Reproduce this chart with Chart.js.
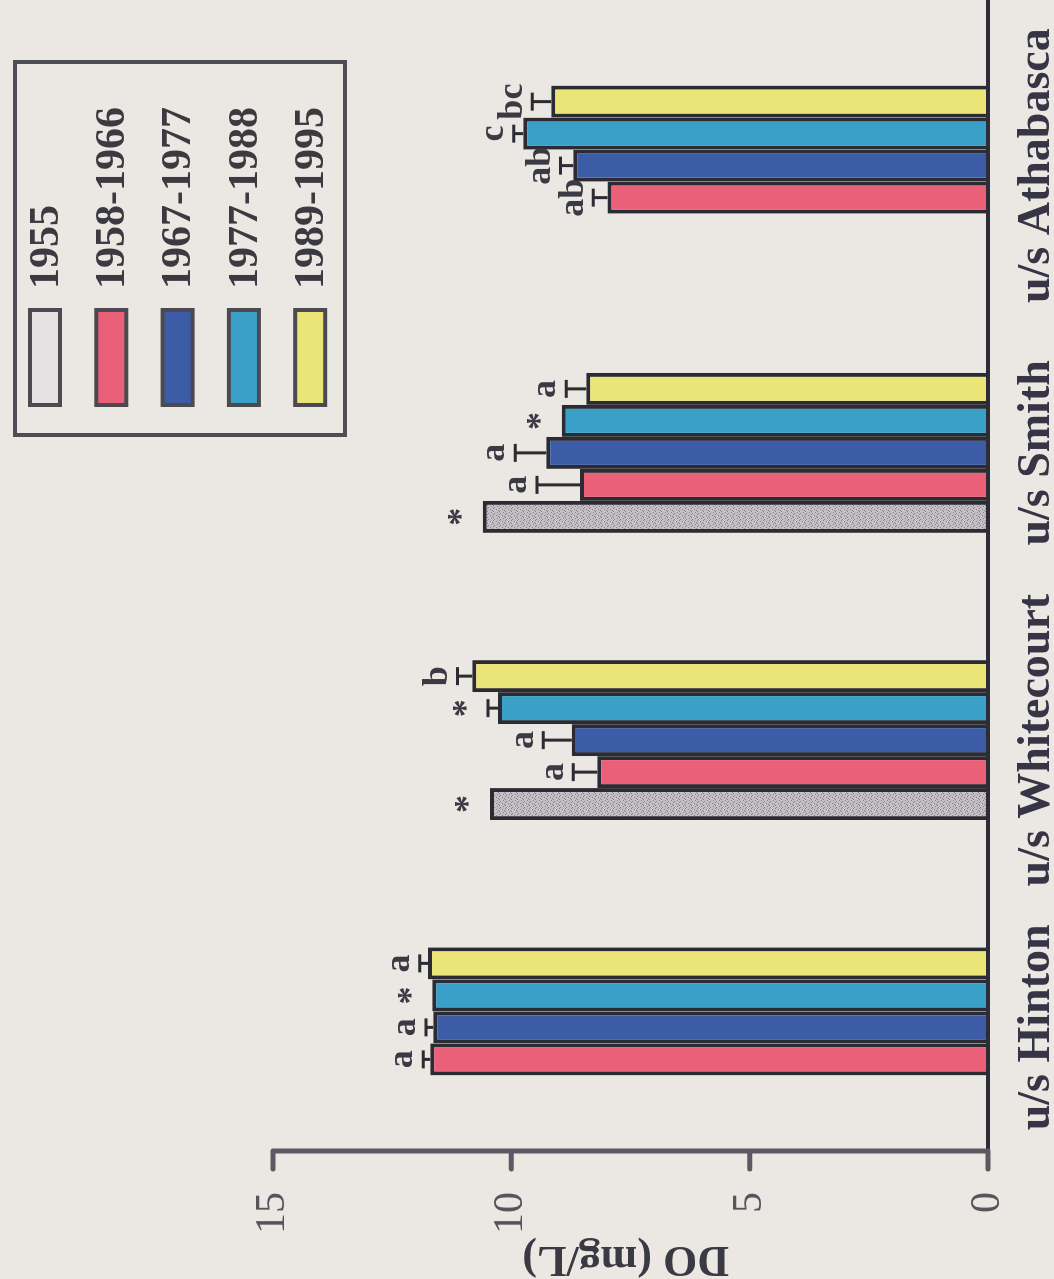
<!DOCTYPE html>
<html>
<head>
<meta charset="utf-8">
<script src="https://cdn.jsdelivr.net/npm/chart.js@4.4.1/dist/chart.umd.min.js"></script>
<style>
html, body { margin: 0; padding: 0; background: #ebe7e2; overflow: hidden; }
/* chart is drawn upright, then the whole figure is turned a quarter turn like the scan */
#wrap { position: absolute; left: 0; top: 0; width: 1279px; height: 1054px;
  transform-origin: 0 0; transform: translateY(1279px) rotate(-90deg); }
</style>
</head>
<body>
<div id="wrap"><canvas id="myChart"></canvas></div>
<script>
var sites = ['u/s Hinton', 'u/s Whitecourt', 'u/s Smith', 'u/s Athabasca'];
var periods = ['1955', '1958-1966', '1967-1977', '1977-1988', '1989-1995'];

// mean DO (mg/L) per site
var do1955 = [null, 10.45, 10.6, null];
var do1958 = [11.70, 8.20, 8.56, 7.98];
var do1967 = [11.64, 8.73, 9.27, 8.70];
var do1977 = [11.66, 10.28, 8.94, 9.75];
var do1989 = [11.75, 10.82, 8.43, 9.16];

// error bars (null = none)
var err1955 = [null, null, null, null];
var err1958 = [0.15, 0.5, 0.9, 0.3];
var err1967 = [0.15, 0.6, 0.65, 0.27];
var err1977 = [null, 0.21, null, 0.2];
var err1989 = [0.17, 0.31, 0.42, 0.4];

// letters over the bars
var let1955 = ['', '*', '*', ''];
var let1958 = ['a', 'a', 'a', 'ab'];
var let1967 = ['a', 'a', 'a', 'ab'];
var let1977 = ['*', '*', '*', 'c'];
var let1989 = ['a', 'b', 'a', 'bc'];

var yTicks = [0, 5, 10, 15];

var serif = "'Liberation Serif', 'Times New Roman', serif";
Chart.defaults.font.family = serif;

function stipple() {
  var c = document.createElement('canvas');
  c.width = 6; c.height = 6;
  var g = c.getContext('2d');
  g.fillStyle = '#c3bfc5'; g.fillRect(0, 0, 6, 6);
  g.fillStyle = '#86828c';
  g.fillRect(0, 0, 1, 1); g.fillRect(3, 2, 1, 1); g.fillRect(1, 4, 1, 1);
  g.fillRect(4, 5, 1, 1); g.fillRect(5, 1, 1, 1); g.fillRect(2, 1, 1, 1);
  return g.createPattern(c, 'repeat');
}

var edge = '#2b2b33';
var datasets = [
  { label: periods[0], data: do1955, err: err1955, marks: let1955, backgroundColor: stipple(), swatch: '#e6e2e4' },
  { label: periods[1], data: do1958, err: err1958, marks: let1958, backgroundColor: '#ea6079', swatch: '#ea6079' },
  { label: periods[2], data: do1967, err: err1967, marks: let1967, backgroundColor: '#3d5ca8', swatch: '#3d5ca8' },
  { label: periods[3], data: do1977, err: err1977, marks: let1977, backgroundColor: '#3aa0c8', swatch: '#3aa0c8' },
  { label: periods[4], data: do1989, err: err1989, marks: let1989, backgroundColor: '#ebe577', swatch: '#ebe577' }
];
datasets.forEach(function (d) {
  d.borderColor = edge;
  d.borderWidth = 4;
  d.categoryPercentage = 0.557;
  d.barPercentage = 1.0;
});

var extras = {
  id: 'extras',
  afterDatasetsDraw: function (chart) {
    var ctx = chart.ctx, y = chart.scales.y;
    ctx.save();
    chart.data.datasets.forEach(function (ds, i) {
      var meta = chart.getDatasetMeta(i);
      meta.data.forEach(function (bar, j) {
        if (ds.data[j] == null) return;
        var top = bar.y;
        if (ds.err[j] != null) {
          top = y.getPixelForValue(ds.data[j] + ds.err[j]);
          ctx.strokeStyle = edge;
          ctx.lineWidth = 3;
          ctx.beginPath();
          ctx.moveTo(bar.x, bar.y);
          ctx.lineTo(bar.x, top);
          ctx.moveTo(bar.x - 9, top);
          ctx.lineTo(bar.x + 9, top);
          ctx.stroke();
        }
        ctx.fillStyle = '#3a3a44';
        ctx.font = 'bold 36px ' + serif;
        ctx.textAlign = 'center';
        ctx.textBaseline = 'bottom';
        ctx.fillText(ds.marks[j], bar.x, top - 2);
      });
    });
    ctx.restore();
  },
  afterDraw: function (chart) {
    var ctx = chart.ctx, y = chart.scales.y, a = chart.chartArea;
    var axisX = a.left + 20;
    ctx.save();
    // category axis
    ctx.strokeStyle = '#2d2d3a';
    ctx.lineWidth = 4;
    ctx.beginPath();
    ctx.moveTo(axisX, y.getPixelForValue(0));
    ctx.lineTo(chart.width, y.getPixelForValue(0));
    ctx.stroke();
    // value axis with ticks
    ctx.strokeStyle = '#5a5a64';
    ctx.lineWidth = 5;
    ctx.lineCap = 'round';
    ctx.beginPath();
    ctx.moveTo(axisX, y.getPixelForValue(0));
    ctx.lineTo(axisX, y.getPixelForValue(15));
    yTicks.forEach(function (t) {
      ctx.moveTo(axisX, y.getPixelForValue(t));
      ctx.lineTo(axisX - 18, y.getPixelForValue(t));
    });
    ctx.stroke();
    // axis title
    ctx.fillStyle = '#3a3a44';
    ctx.font = 'bold 44px ' + serif;
    ctx.textAlign = 'center';
    ctx.textBaseline = 'middle';
    ctx.translate(21, y.getPixelForValue(7.6));
    ctx.rotate(-Math.PI / 2);
    ctx.fillText('DO (mg/L)', 0, 0);
    ctx.restore();

    // legend box
    ctx.save();
    ctx.strokeStyle = '#4d4d55';
    ctx.lineWidth = 4;
    ctx.strokeRect(844, 15, 373, 330);
    chart.data.datasets.forEach(function (ds, i) {
      var cy = 45 + i * 66.3;
      ctx.fillStyle = ds.swatch;
      ctx.fillRect(874, cy - 15, 95, 30);
      ctx.strokeStyle = '#4a4a50';
      ctx.lineWidth = 4;
      ctx.strokeRect(874, cy - 15, 95, 30);
      ctx.fillStyle = '#3a3a40';
      ctx.font = 'bold 42px ' + serif;
      ctx.textAlign = 'left';
      ctx.textBaseline = 'middle';
      ctx.fillText(ds.label, 990, cy + 2);
    });
    ctx.restore();
  }
};

var ctx = document.getElementById('myChart');
var myChart = new Chart(ctx, {
  type: 'bar',
  data: { labels: sites, datasets: datasets },
  options: {
    responsive: true,
    maintainAspectRatio: false,
    animation: false,
    layout: { padding: { top: 273, right: 22, left: 0, bottom: 0 } },
    plugins: { legend: { display: false }, tooltip: { enabled: false } },
    scales: {
      x: {
        grid: { display: false, drawTicks: false },
        border: { display: false },
        ticks: { font: { size: 46, weight: 'bold' }, color: '#353545', padding: 22, maxRotation: 0, autoSkip: false },
        afterFit: function (s) { s.height = 66; }
      },
      y: {
        min: 0, max: 15,
        grid: { display: false, drawTicks: false },
        border: { display: false },
        ticks: { stepSize: 5, font: { size: 42 }, color: '#55555d', padding: 21 },
        afterFit: function (s) { s.width = 108; }
      }
    }
  },
  plugins: [extras]
});
</script>
</body>
</html>
